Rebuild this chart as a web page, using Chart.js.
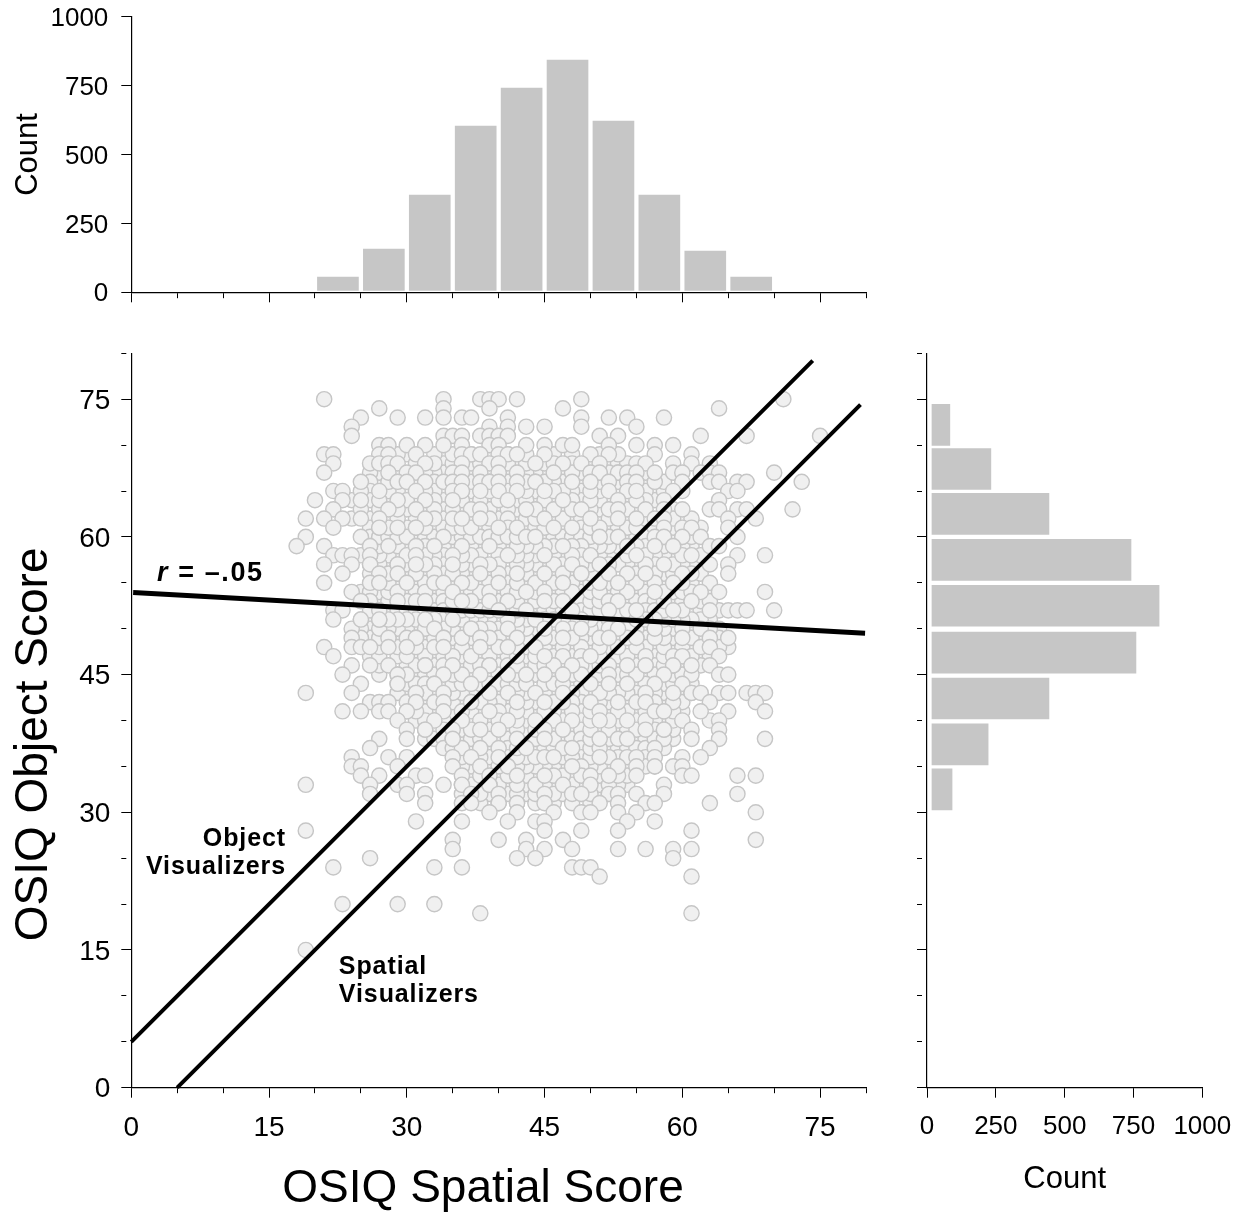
<!DOCTYPE html>
<html><head><meta charset="utf-8">
<script src="https://cdn.jsdelivr.net/npm/chart.js@4"></script>
<style>
html,body{margin:0;padding:0;background:#fff;width:1244px;height:1212px;overflow:hidden}
canvas{position:absolute;display:block}
</style></head><body>
<canvas id="top" width="900" height="340" style="left:0;top:0;width:900px;height:340px"></canvas>
<canvas id="main" width="900" height="872" style="left:0;top:340px;width:900px;height:872px"></canvas>
<canvas id="side" width="344" height="872" style="left:900px;top:340px;width:344px;height:872px"></canvas>
<script>
// Histogram of spatial scores
const spatialBins=[22.5,27.5,32.5,37.5,42.5,47.5,52.5,57.5,62.5,67.5];
const spatialCounts=[55,157,353,603,741,843,621,353,150,55];
// Histogram of object scores
const objectBins=[72.2,67.4,62.5,57.5,52.5,47.4,42.4,37.4,32.5];
const objectCounts=[83,232,443,741,843,759,443,222,91];
// Tick labels
const scoreTickLabels=[0,15,30,45,60,75];
const countTickLabels=[0,250,500,750,1000];
// Reference lines
const objectLineX=[0,74.2];const objectLineY=[5,79.2];
const spatialLineX=[5,79.4];const spatialLineY=[0,74.4];
const fitLineX=[0.2,79.9];const fitLineY=[53.95,49.5];
// Dense scatter underlayer: one row of spatial scores per object score
const denseY=[60,47,53,40,66,35,57,44,50,37,63,33,55,42,69,48,59,38,52,45,65,34,61,41,56,36,49,67,39,54,43,62,32,58,46,51,68,64,31];
const denseX=[
[27,29,31,33,35,37,39,41,43,45,47,49,51,53,55,59,61,26,28,30,32,36,38,40,42,46,48,50,52,54,56,58,60],
[27,29,31,33,35,37,39,41,43,47,49,51,53,55,57,59,61,63,26,30,32,34,36,38,40,42,44,46,48,52,54,58,60,62],
[27,29,31,33,35,37,41,43,47,49,51,55,57,59,61,63,26,28,30,34,38,40,42,44,46,48,50,52,54,56,58,60,62],
[33,35,37,39,41,43,45,47,49,53,55,57,59,31,32,34,36,38,40,42,44,46,48,50,52,56,58,60,63],
[27,31,33,37,39,41,43,45,47,49,51,53,57,26,28,44,46,56,58],
[37,39,41,43,45,47,49,51,54,56,36,40,42,44,46,50,52,57],
[27,29,31,33,35,37,39,43,45,47,49,53,55,57,59,61,26,28,30,32,34,36,40,42,44,46,50,52,54,56,60,62],
[31,33,35,39,41,43,45,47,49,51,53,55,59,61,29,30,32,34,36,38,40,42,46,48,56,58],
[25,27,29,31,33,35,37,39,43,45,47,49,51,55,57,59,61,63,24,26,28,30,32,34,36,38,40,42,44,46,48,50,52,54,56,58,62,64],
[35,37,39,41,43,45,49,51,53,55,34,36,38,42,44,46,50,52,54,56,58],
[25,27,29,33,35,37,39,41,43,45,47,51,55,59,30,32,34,36,40,42,44,46,48,50,54],
[37,39,41,43,45,49,51,53,36,38,40,42,44,46,48,52,54],
[27,29,31,33,35,37,39,41,43,45,49,51,55,57,61,28,32,38,42,44,46,48,50,52,54,56,58,60],
[33,35,37,39,41,43,47,49,51,55,57,59,30,32,36,38,40,44,46,48,50,52,54,58,60],
[29,30,33,34,35,37,39,41,43,46,48,51,53],
[27,29,31,33,35,37,39,41,43,45,47,49,51,53,55,57,59,61,65,32,36,40,42,44,46,48,50,52,54,56,58,60,62,64],
[27,29,31,33,35,37,41,43,45,49,51,53,55,59,61,26,30,32,34,38,40,42,44,46,48,50,52,56,58,60],
[33,35,37,39,41,43,47,49,55,57,59,32,34,36,38,40,44,46,48,50,52,56,58],
[27,29,31,33,35,37,39,41,43,45,47,49,51,53,57,61,26,28,30,32,34,36,38,42,44,46,50,54,56,58,60,62,64],
[29,31,33,35,37,39,41,43,47,49,51,53,55,57,59,61,27,30,32,36,40,42,44,46,48,50,54,56,60],
[25,29,33,37,39,41,43,47,49,51,53,57,26,28,30,32,34,36,44,46,48,50,56,58,60],
[37,41,43,46,47,49,51,53,38,40,44,48,54],
[27,31,33,35,37,39,41,43,45,47,49,51,53,55,57,59,26,28,30,32,34,36,38,44,50,52,54,56,60,62],
[31,33,35,37,41,43,45,47,49,53,55,59,30,32,36,38,40,42,44,46,48,50,52,54,56,58,60],
[27,29,31,33,35,37,39,41,43,47,49,51,55,57,59,61,26,28,30,32,34,36,40,44,46,48,50,54,58,62],
[37,39,41,43,47,49,51,53,36,38,42,44,48,50,52,54,56],
[25,27,29,31,33,35,37,39,41,43,45,49,51,53,55,57,59,61,63,24,26,28,30,32,34,36,38,40,44,46,48,50,52,54,56,58,62,64],
[26,27,29,31,32,33,34,37,39,40,41,43,44,45,47,48,49,51,52,53,56],
[33,35,37,39,41,43,45,49,51,53,55,57,59,32,34,36,38,40,42,44,46,48,50,52,54,56,58],
[25,27,29,31,33,37,39,41,45,47,49,51,53,55,59,61,63,26,28,30,32,34,36,38,40,42,44,46,48,50,52,54,56,58,60],
[29,31,33,35,37,39,41,43,45,49,51,53,55,57,59,61,30,32,34,36,38,40,42,46,48,50,52,54,56,58,60],
[24,26,28,29,31,33,34,37,39,40,41,42,43,44,46,47,48,49,51,52,54,56,59,60,61],
[37,39,41,43,45,47,49,51,36,38,42,44,46,50,52],
[27,29,31,33,35,37,41,43,45,47,49,51,53,57,59,25,26,28,30,32,34,36,38,40,42,44,46,48,50,52,54,56,58,60,62],
[27,31,33,37,39,41,43,45,47,49,51,53,55,57,59,61,30,32,34,36,38,40,42,44,46,50,52,54,56,58,60,62],
[25,27,29,31,33,35,37,39,41,43,45,47,49,53,55,57,59,61,63,26,28,30,32,34,36,38,40,42,44,46,48,50,52,54,56,58,60,62],
[28,31,33,34,35,37,38,41,42,43,45,46,48,50,52,53,54],
[24,26,27,28,30,31,33,34,36,37,38,39,40,42,43,44,45,46,48,49,50,51,52,54,55,56,57],
[38,40,42,44,46,48,50]
];
// Upper scatter layer: the circles that are visible on top
const topY=[75,74,73,72,71,70,69,68,67,66,65,64,63,62,61,60,59,58,57,56,55,54,53,52,51,50,49,48,47,46,45,44,43,42,41,40,39,38,37,36,35,34,33,32,31,30,29,28,27,26,25,24,23,20,19,15];
const topX=[
[21,34,38,39,40,42,49,71],
[27,34,39,47,64],
[25,29,32,34,36,37,41,49,52,54,58],
[24,39,41,43,45,49,55],
[24,34,35,36,38,39,40,41,51,53,62,67,75],
[27,28,30,32,34,36,39,40,43,45,47,48,52,55,57,59],
[21,22,27,28,31,36,37,38,40,41,42,45,50,52,57,61],
[22,26,27,28,29,32,36,39,40,44,47,49,51,55,56,59,61,63],
[21,28,30,31,35,36,38,40,42,46,50,51,53,54,55,57,59,60,62,63,64,70],
[25,29,30,32,34,35,36,38,39,40,42,44,48,50,52,54,55,60,63,64,66,67,73],
[22,23,27,31,35,36,38,40,42,45,52,54,55,59,65,66],
[20,23,25,29,32,35,41,47,53,58,64],
[22,28,31,38,43,49,52,53,56,58,60,63,64,66,67,72],
[19,21,23,25,27,32,35,36,38,45,50,53,55,57,58,65,68],
[22,27,29,31,40,42,46,48,58,61,65],
[19,25,34,43,44,51,57,58,60,62,66],
[18,21,26,28,31,33,36,39,47,54,57,59,63,64],
[22,23,24,26,31,35,41,45,50,55,61,66,69],
[21,24,26,29,31,35,38,48,51,58,63,65],
[23,27,29,38,42,45,49,52,56,60,65],
[21,26,27,30,34,36,40,47,53,59,63],
[24,35,43,57,62,64,69],
[25,29,32,36,39,41,45,53,61],
[22,23,27,40,48,52,55,59,63,65,66,67,70],
[22,25,27,32,35,44],
[33,37,41,45,49,53,57,60],
[28,31,34,38,42,47,52,55,60,63,65],
[21,24,25,26,28,30,34,38,41,63],
[22,45,50,56,60,64],
[24,26,28,32,35,39,48,54,56,59,61,63],
[23,29,34,38,41,45,47,52,58,64,65],
[25,29,33,37,50,52,54,57,60],
[19,24,31,34,39,44,47,56,59,61,62,64,65,67,68,69],
[26,27,28,31,34,37,42,45,53,56,63,68],
[23,25,27,28,30,34,39,51,57,58,62,65,69],
[29,33,36,41,51,54,60,64],
[30,32,35,38,40,47,56,58,61,64],
[27,30,35,42,45,51,53,54,61,64,69],
[26,38,40,47,48,57,63],
[24,28,30,35,37,40,45,46,51,55,57,60,62],
[24,25,29,35,38,41,48,53,55,57,59,60],
[25,27,31,32,36,39,42,45,50,52,55,60,61,66,68],
[19,26,29,30,34,36,39,47,50,58],
[26,30,32,37,40,45,48,49,52,53,55,58,66],
[32,36,37,40,42,45,51,53,56,57,63],
[39,42,46,49,50,53,55,68],
[31,36,41,44,45,54,57],
[19,45,49,53,61],
[35,40,43,47,68],
[35,43,45,48,53,56,59,61],
[26,42,44,59],
[22,33,36,48,49,50],
[51,61],
[23,29,33],
[38,61],
[19]
];
// Text placed on the main plot, in score coordinates
const noteLines=["Object","Visualizers","Spatial","Visualizers"];
const noteX=[16.85,16.85,22.6,22.6];
const noteY=[26.3,23.3,12.4,9.3];
const noteAlign=["right","right","left","left"];
const xTitleText="OSIQ Spatial Score";
const yTitleText="OSIQ Object Score";

const SANS='"Liberation Sans", Arial, sans-serif';
const INK='#000';
const BAR='#c6c6c6';
Chart.defaults.font.family=SANS;
Chart.defaults.color=INK;
Chart.defaults.animation=false;

const fix=(w,h)=>s=>{ if(w!=null) s.width=w; if(h!=null) s.height=h; s.paddingTop=0;s.paddingBottom=0;s.paddingLeft=0;s.paddingRight=0; };
function scoreAxis(withLabels,pad,size,after,extra){
  return Object.assign({
    type:'linear',min:0,max:80,offset:false,afterFit:after,
    border:{display:true,color:INK,width:1.2},
    grid:{display:true,offset:false,drawOnChartArea:false,drawTicks:true,tickLength:10,tickColor:INK,tickWidth:1,
      tickBorderDash:c=>(c.tick&&c.tick.value%15===0)?[]:[5,100]},
    ticks:{display:true,stepSize:5,autoSkip:false,maxRotation:0,minRotation:0,padding:pad,
      font:{size:size},color:INK,includeBounds:true,
      callback:v=>withLabels&&scoreTickLabels.includes(v)?String(v):''}
  },extra||{});
}
function countAxis(withLabels,after,pad,title){
  return {
    type:'linear',min:0,max:1000,offset:false,afterFit:after,
    border:{display:true,color:INK,width:1.2},
    grid:{display:true,offset:false,drawOnChartArea:false,drawTicks:true,tickLength:10,tickColor:INK,tickWidth:1},
    ticks:{stepSize:250,autoSkip:false,maxRotation:0,minRotation:0,padding:pad,font:{size:26},color:INK,
      callback:v=>countTickLabels.includes(v)?String(v):''},
    title:title
  };
}
const plain={legend:{display:false},tooltip:{enabled:false}};
// The reference's vertical-axis numbers sit slightly below their ticks
const nudgeYLabels={id:'nudgeYLabels',beforeDraw(ch){
  ch.scales.y.getLabelItems().forEach(it=>{ it.options.translation=[it.options.translation[0],it.options.translation[1]+2]; });
}};

// Top histogram
new Chart(document.getElementById('top'),{
  type:'bar',
  data:{datasets:[{data:spatialBins.map((b,i)=>({x:b,y:spatialCounts[i]})),backgroundColor:BAR,base:7,barThickness:41,borderWidth:0}]},
  options:{responsive:false,plugins:plain,
    layout:{padding:{top:16.7,right:34,left:0,bottom:0}},
    scales:{
      x:scoreAxis(false,0,10,fix(null,47.7)),
      y:countAxis(true,fix(131.3,null),13,{display:true,text:'Count',font:{size:31},color:INK,padding:{top:10,bottom:0}})
    }},
  plugins:[nudgeYLabels]
});

// Main scatter with text drawn from score coordinates
const mainText={id:'mainText',afterDatasetsDraw(ch){
  const c=ch.ctx,X=ch.scales.x,Y=ch.scales.y;
  c.save();c.fillStyle=INK;c.textBaseline='alphabetic';
  c.font='bold 25px '+SANS;c.letterSpacing='0.9px';
  noteLines.forEach((t,i)=>{c.textAlign=noteAlign[i];c.fillText(t,X.getPixelForValue(noteX[i]),Y.getPixelForValue(noteY[i]));});
  c.textAlign='left';
  const rx=X.getPixelForValue(2.8),ry=Y.getPixelForValue(55.2);
  c.font='italic bold 27px '+SANS;c.letterSpacing='1.6px';c.fillText('r',rx,ry);
  const w=c.measureText('r').width;
  c.font='bold 27px '+SANS;c.fillText(' = –.05',rx+w,ry);
  c.letterSpacing='0px';
  c.font='46px '+SANS;c.textAlign='center';
  c.fillText(xTitleText,X.getPixelForValue(38.3),Y.getPixelForValue(-12.4));
  c.translate(X.getPixelForValue(-9.2),Y.getPixelForValue(37.4));
  c.rotate(-Math.PI/2);c.fillText(yTitleText,0,0);
  c.restore();
}};
const rowsToPoints=(ys,xs)=>ys.flatMap((y,i)=>xs[i].map(x=>({x,y})));
const pairs=(xs,ys)=>xs.map((x,i)=>({x,y:ys[i]}));
// Draw order only: the reference's circles overlap in no row-by-row pattern
const layerRank=p=>(p.x*37+p.y*61+p.x*p.y*13)%101;
const denseLayered=rowsToPoints(denseY,denseX).sort((a,b)=>layerRank(a)-layerRank(b));
const dot={pointRadius:7.6,pointBackgroundColor:'#f0f0f0',pointBorderColor:'#c6c6c6',pointBorderWidth:1.4,showLine:false,clip:false};
const rule=w=>({showLine:true,pointRadius:0,borderColor:INK,borderWidth:w,fill:false,tension:0,borderCapStyle:'butt',clip:false,order:1});
new Chart(document.getElementById('main'),{
  type:'scatter',
  data:{datasets:[
    Object.assign({data:pairs(objectLineX,objectLineY)},rule(4)),
    Object.assign({data:pairs(spatialLineX,spatialLineY)},rule(4)),
    Object.assign({data:pairs(fitLineX,fitLineY)},rule(5)),
    Object.assign({data:rowsToPoints(topY,topX),order:2},dot),
    Object.assign({data:denseLayered,order:3},dot)
  ]},
  options:{responsive:false,plugins:plain,
    layout:{padding:{top:13.3,right:34,left:0,bottom:0}},
    scales:{
      x:scoreAxis(true,14,28,fix(null,124.3),{position:'bottom'}),
      y:scoreAxis(true,11,28,fix(131.3,null),{position:'left'})
    }},
  plugins:[mainText,nudgeYLabels]
});

// Side histogram
new Chart(document.getElementById('side'),{
  type:'bar',
  data:{datasets:[{data:objectBins.map((b,i)=>({y:b,x:objectCounts[i]})),backgroundColor:BAR,base:18,barThickness:41,borderWidth:0}]},
  options:{responsive:false,indexAxis:'y',plugins:plain,
    layout:{padding:{top:13.3,right:41.7,left:0,bottom:0}},
    scales:{
      x:countAxis(true,fix(null,124.3),14,{display:true,text:'Count',font:{size:31},color:INK,padding:{top:0,bottom:14}}),
      y:scoreAxis(false,0,10,fix(27,null))
    }}
});
</script>
</body></html>
